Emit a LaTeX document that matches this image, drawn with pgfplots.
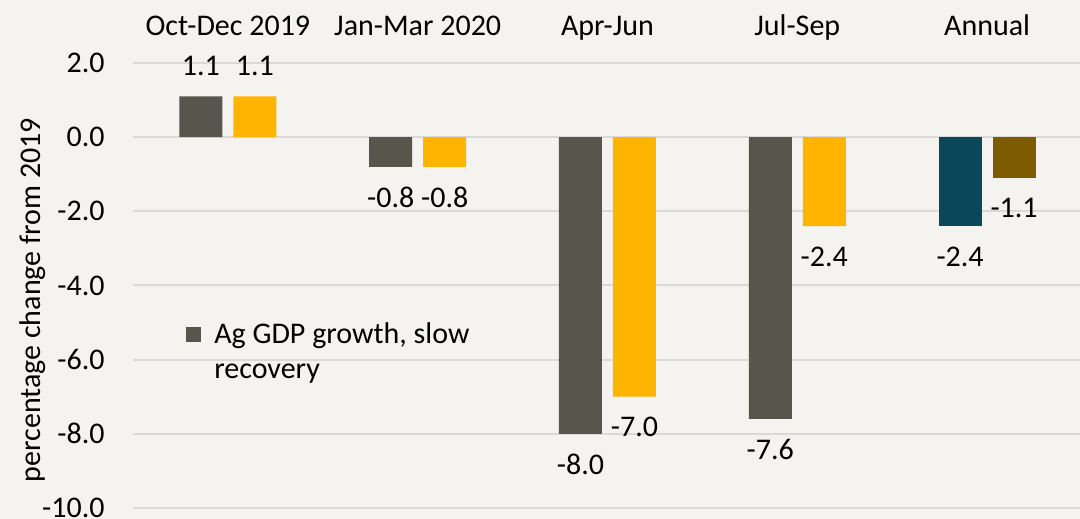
\documentclass[border=0pt]{standalone}
\usepackage{fontspec}
\setmainfont{Carlito}
\usepackage{pgfplots}
\pgfplotsset{compat=1.18}
\definecolor{bg}{HTML}{F4F3EF}
\definecolor{dk}{HTML}{57564C}
\definecolor{yl}{HTML}{FFB500}
\definecolor{tl}{HTML}{0A475B}
\definecolor{br}{HTML}{7F5B00}
\definecolor{gr}{HTML}{D9D9D9}
\begin{document}
\fontsize{15bp}{17.5bp}\selectfont
\begin{tikzpicture}
\fill[bg] (-66.5bp,-5.5bp) rectangle (473.5bp,254bp);
\begin{axis}[
  at={(0,0)}, anchor=south west,
  scale only axis, width=474.5bp, height=222.5bp,
  xmin=-0.5, xmax=4.5, ymin=-10, ymax=2,
  ybar, bar width=21.5bp,
  clip=false,
  axis line style={draw=none},
  major tick length=0pt,
  xtick={0,1,2,3,4},
  xticklabels={Oct-Dec 2019, Jan-Mar 2020, Apr-Jun, Jul-Sep, Annual},
  xticklabel pos=upper,
  xticklabel style={anchor=base, yshift=13.5bp},
  ytick={-10,-8,-6,-4,-2,0,2},
  ymajorgrids, grid style={gr, line width=1bp},
  yticklabel style={anchor=east, inner xsep=0pt, xshift=-14bp,
    /pgf/number format/fixed, /pgf/number format/fixed zerofill,
    /pgf/number format/precision=1, /pgf/number format/assume math mode=true},
  ylabel={percentage change from 2019},
  every axis y label/.style={at={(axis description cs:-0.1054,0.467)}, rotate=90, anchor=center},
  nodes near coords,
  every node near coord/.append style={inner ysep=10bp, black,
    /pgf/number format/fixed, /pgf/number format/fixed zerofill,
    /pgf/number format/precision=1, /pgf/number format/assume math mode=true},
  legend style={at={(axis description cs:0.0558,0.427)}, anchor=north west,
    draw=none, fill=none, inner sep=0pt, column sep=4.5bp,
    cells={anchor=base west}},
]
\addplot[fill=dk, draw=none, bar shift=-13.5bp,
  legend image code/.code={\fill[dk] (0bp,0.5bp) rectangle (7.5bp,8bp);}]
  coordinates {(0,1.1) (1,-0.8) (2,-8.0) (3,-7.6)};
\addlegendentry{\parbox[t]{140bp}{\raggedright Ag GDP growth, slow\\recovery}}
\addplot[fill=yl, draw=none, bar shift=13.5bp]
  coordinates {(0,1.1) (1,-0.8) (2,-7.0) (3,-2.4)};
\addplot[fill=tl, draw=none, bar shift=-13.5bp]
  coordinates {(4,-2.4)};
\addplot[fill=br, draw=none, bar shift=13.5bp]
  coordinates {(4,-1.1)};
\end{axis}
\pgfresetboundingbox
\path[use as bounding box] (-66.5bp,-5.5bp) rectangle (473.5bp,254bp);
\end{tikzpicture}
\end{document}
